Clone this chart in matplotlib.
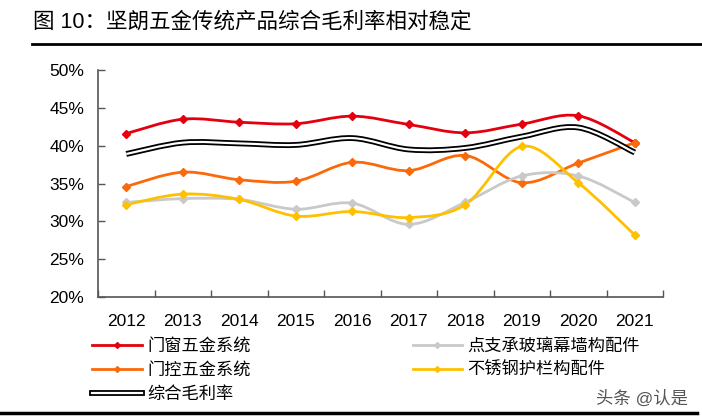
import matplotlib
matplotlib.use("Agg")
import matplotlib.pyplot as plt
from matplotlib.path import Path
from matplotlib.patches import PathPatch
from matplotlib.lines import Line2D

plt.rcParams['font.family'] = ['Liberation Sans', 'Noto Sans CJK SC', 'DejaVu Sans']

years = ["2012", "2013", "2014", "2015", "2016", "2017", "2018", "2019", "2020", "2021"]
door_window = [41.6, 43.5, 43.1, 42.9, 43.9, 42.8, 41.7, 42.85, 43.95, 40.4]
door_control = [34.6, 36.5, 35.5, 35.3, 37.8, 36.7, 38.7, 35.1, 37.7, 40.4]
curtain_wall = [32.5, 33.0, 32.9, 31.6, 32.4, 29.6, 32.5, 36.0, 36.0, 32.5]
railing = [32.2, 33.6, 32.9, 30.7, 31.3, 30.5, 32.2, 39.9, 35.1, 28.2]
overall = [38.9, 40.4, 40.3, 40.1, 41.0, 39.5, 39.7, 41.2, 42.4, 39.1]

names = ["门窗五金系统", "门控五金系统", "综合毛利率", "点支承玻璃幕墙构配件", "不锈钢护栏构配件"]

RED = "#E3000F"
ORANGE = "#FA6A0A"
GREY = "#C9C9C9"
YELLOW = "#FFC000"


def smooth_path(xs, ys):
    # Excel-style smoothed line: cubic bezier segments through the points
    pts = list(zip(xs, ys))
    n = len(pts)
    verts = [pts[0]]
    codes = [Path.MOVETO]
    for i in range(n - 1):
        p0 = pts[max(i - 1, 0)]
        p1 = pts[i]
        p2 = pts[i + 1]
        p3 = pts[min(i + 2, n - 1)]
        c1 = (p1[0] + (p2[0] - p0[0]) / 6, p1[1] + (p2[1] - p0[1]) / 6)
        c2 = (p2[0] - (p3[0] - p1[0]) / 6, p2[1] - (p3[1] - p1[1]) / 6)
        verts += [c1, c2, p2]
        codes += [Path.CURVE4] * 3
    return Path(verts, codes)


fig = plt.figure(figsize=(7.02, 4.2), dpi=100)
ax = fig.add_axes([98 / 702, 1 - 297 / 420, 565 / 702, 227 / 420])

x = list(range(len(years)))

series = [
    (door_window, RED),
    (door_control, ORANGE),
    (curtain_wall, GREY),
    (railing, YELLOW),
]
for vals, col in series:
    ax.add_patch(PathPatch(smooth_path(x, vals), fill=False, edgecolor=col, lw=2.0, zorder=3))
    ax.plot(x, vals, ls="none", marker="D", ms=4.5, color=col, zorder=4)

ax.add_patch(PathPatch(smooth_path(x, overall), fill=False, edgecolor="black", lw=4.2, zorder=5))
ax.add_patch(PathPatch(smooth_path(x, overall), fill=False, edgecolor="white", lw=1.6, zorder=6))

ax.set_xlim(-0.5, 9.5)
ax.set_ylim(20, 50)
ax.set_yticks(range(20, 51, 5))
ax.set_yticklabels([f"{v}%" for v in range(20, 51, 5)])
ax.set_xticks(x)
ax.set_xticklabels(years)
ax.set_xticks([i - 0.5 for i in range(len(years) + 1)], minor=True)
ax.tick_params(axis="x", which="major", length=0, labelsize=12.5, pad=12)
ax.tick_params(axis="x", which="minor", direction="in", length=5, color="#555555", width=1)
ax.tick_params(axis="y", direction="in", length=5, color="#555555", width=1, labelsize=12.5, pad=10)
for s in ["top", "right"]:
    ax.spines[s].set_visible(False)
for s in ["left", "bottom"]:
    ax.spines[s].set_color("#555555")
    ax.spines[s].set_linewidth(1.2)

handles = [
    Line2D([], [], color=RED, lw=2, marker="D", ms=3),
    Line2D([], [], color=ORANGE, lw=2, marker="D", ms=3),
    (Line2D([], [], color="black", lw=4.2), Line2D([], [], color="white", lw=1.6)),
    Line2D([], [], color=GREY, lw=2, marker="D", ms=3),
    Line2D([], [], color=YELLOW, lw=2, marker="D", ms=3),
]
fig.legend(handles, names, ncol=2, loc="upper left", bbox_to_anchor=(92 / 702, 1 - 338 / 420),
           frameon=False, fontsize=12.4, handlelength=2.9, handletextpad=0.3,
           columnspacing=9.4, labelspacing=0.47, borderpad=0, borderaxespad=0)

fig.text(33 / 702, 1 - 22 / 420, "图 10：坚朗五金传统产品综合毛利率相对稳定", fontsize=15.5,
         va="center", ha="left")
fig.add_artist(Line2D([32 / 702, 1], [1 - 44 / 420] * 2, color="black", lw=2))
fig.add_artist(Line2D([0, 697 / 702], [1 - 413 / 420] * 2, color="black", lw=2.5))
fig.text(688 / 702, 1 - 398 / 420, "头条 @认是", fontsize=12.5, color="#555555",
         ha="right", va="center")

fig.savefig("out.png", dpi=100)
